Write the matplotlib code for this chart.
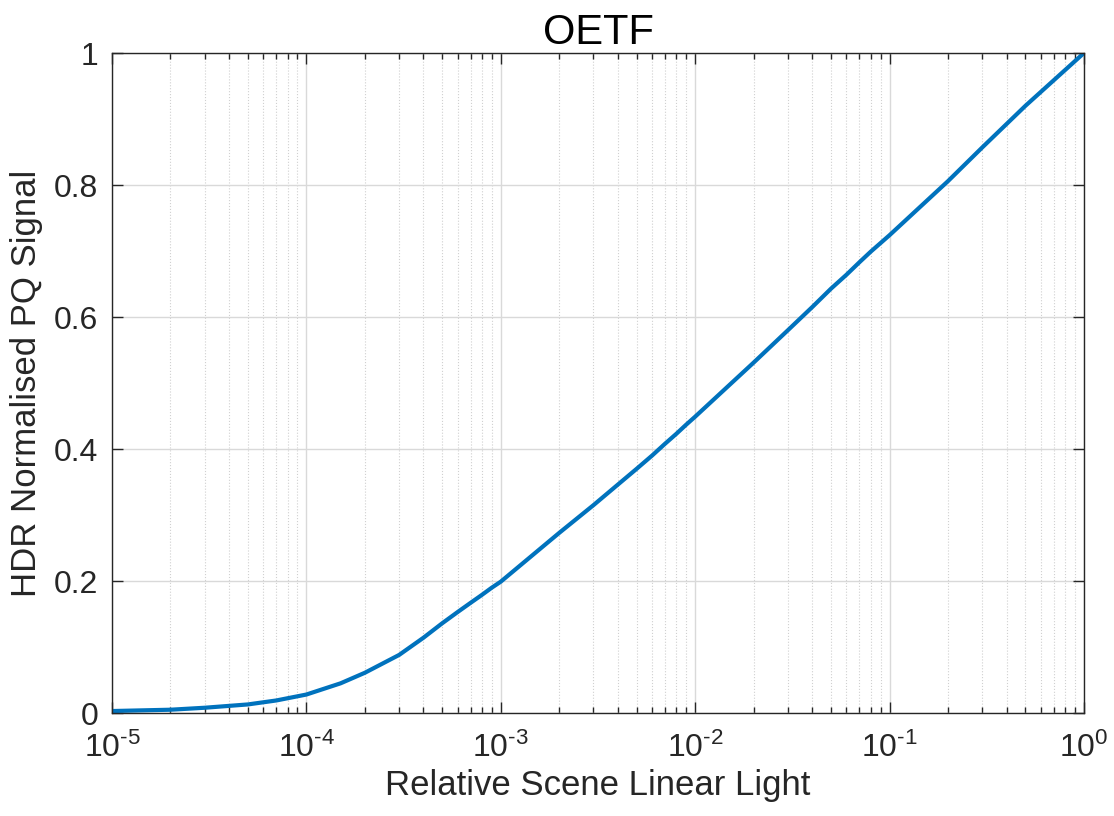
import matplotlib.pyplot as plt
from matplotlib.ticker import FixedLocator, LogLocator

plt.rcParams['font.family'] = ['Liberation Sans', 'DejaVu Sans']
plt.rcParams['mathtext.fontset'] = 'custom'
plt.rcParams['mathtext.rm'] = 'Liberation Sans'
plt.rcParams['mathtext.it'] = 'Liberation Sans'
plt.rcParams['mathtext.default'] = 'regular'

# values
light = [1e-5, 2e-5, 3e-5, 5e-5, 7e-5, 1e-4, 1.5e-4, 2e-4, 3e-4, 4e-4, 5e-4,
         6e-4, 7e-4, 8e-4, 9e-4, 1e-3, 2e-3, 3e-3, 4e-3, 5e-3, 6e-3, 7e-3,
         8e-3, 9e-3, 1e-2, 2e-2, 3e-2, 4e-2, 5e-2, 6e-2, 7e-2, 8e-2, 1e-1,
         2e-1, 3e-1, 5e-1, 1.0]
signal = [0.003, 0.005, 0.008, 0.013, 0.019, 0.028, 0.045, 0.061, 0.088, 0.114,
          0.136, 0.153, 0.167, 0.179, 0.190, 0.199, 0.273, 0.315, 0.346, 0.370,
          0.390, 0.408, 0.423, 0.437, 0.449, 0.531, 0.580, 0.615, 0.643, 0.664,
          0.683, 0.699, 0.724, 0.806, 0.857, 0.920, 1.0]

x_ticks = [1e-5, 1e-4, 1e-3, 1e-2, 1e-1, 1]
x_labels = ['$10^{\u20105}$', '$10^{\u20104}$', '$10^{\u20103}$',
            '$10^{\u20102}$', '$10^{\u20101}$', '$10^{0}$']
y_ticks = [0, 0.2, 0.4, 0.6, 0.8, 1]
y_labels = ['0', '0.2', '0.4', '0.6', '0.8', '1']

axis_col = '#262626'

fig = plt.figure(figsize=(11.14, 8.16), dpi=100)
ax = fig.add_axes([0.1005, 0.1262, 0.8725, 0.8088])

ax.plot(light, signal, color='#0072BD', linewidth=3.0, solid_capstyle='round',
        solid_joinstyle='round')

ax.set_xscale('log')
ax.set_xlim(1e-5, 1)
ax.set_ylim(0, 1)
ax.xaxis.set_major_locator(FixedLocator(x_ticks))
ax.set_xticklabels(x_labels)
ax.xaxis.set_minor_locator(LogLocator(base=10, subs=range(2, 10), numticks=10))
ax.xaxis.set_minor_formatter(plt.NullFormatter())
ax.yaxis.set_major_locator(FixedLocator(y_ticks))
ax.set_yticklabels(y_labels)

ax.grid(True, which='major', color='#d9d9d9', linewidth=1.0, linestyle='-')
ax.grid(True, which='minor', axis='x', color='#d0d0d0', linewidth=0.8, linestyle=':')
ax.set_axisbelow(True)

ax.tick_params(which='both', direction='in', top=True, right=True,
               colors=axis_col, labelsize=23, width=1.0)
ax.tick_params(which='major', length=8)
ax.tick_params(which='minor', length=4)
ax.tick_params(axis='x', which='major', pad=14)
ax.tick_params(axis='y', which='major', pad=10)
for s in ax.spines.values():
    s.set_color(axis_col)
    s.set_linewidth(1.0)

ax.set_title('OETF', fontsize=30, color='black', pad=6)
ax.set_xlabel('Relative Scene Linear Light', fontsize=25, color=axis_col, labelpad=4)
ax.set_ylabel('HDR Normalised PQ Signal', fontsize=25, color=axis_col, labelpad=8)

fig.savefig('out.png', dpi=100)
